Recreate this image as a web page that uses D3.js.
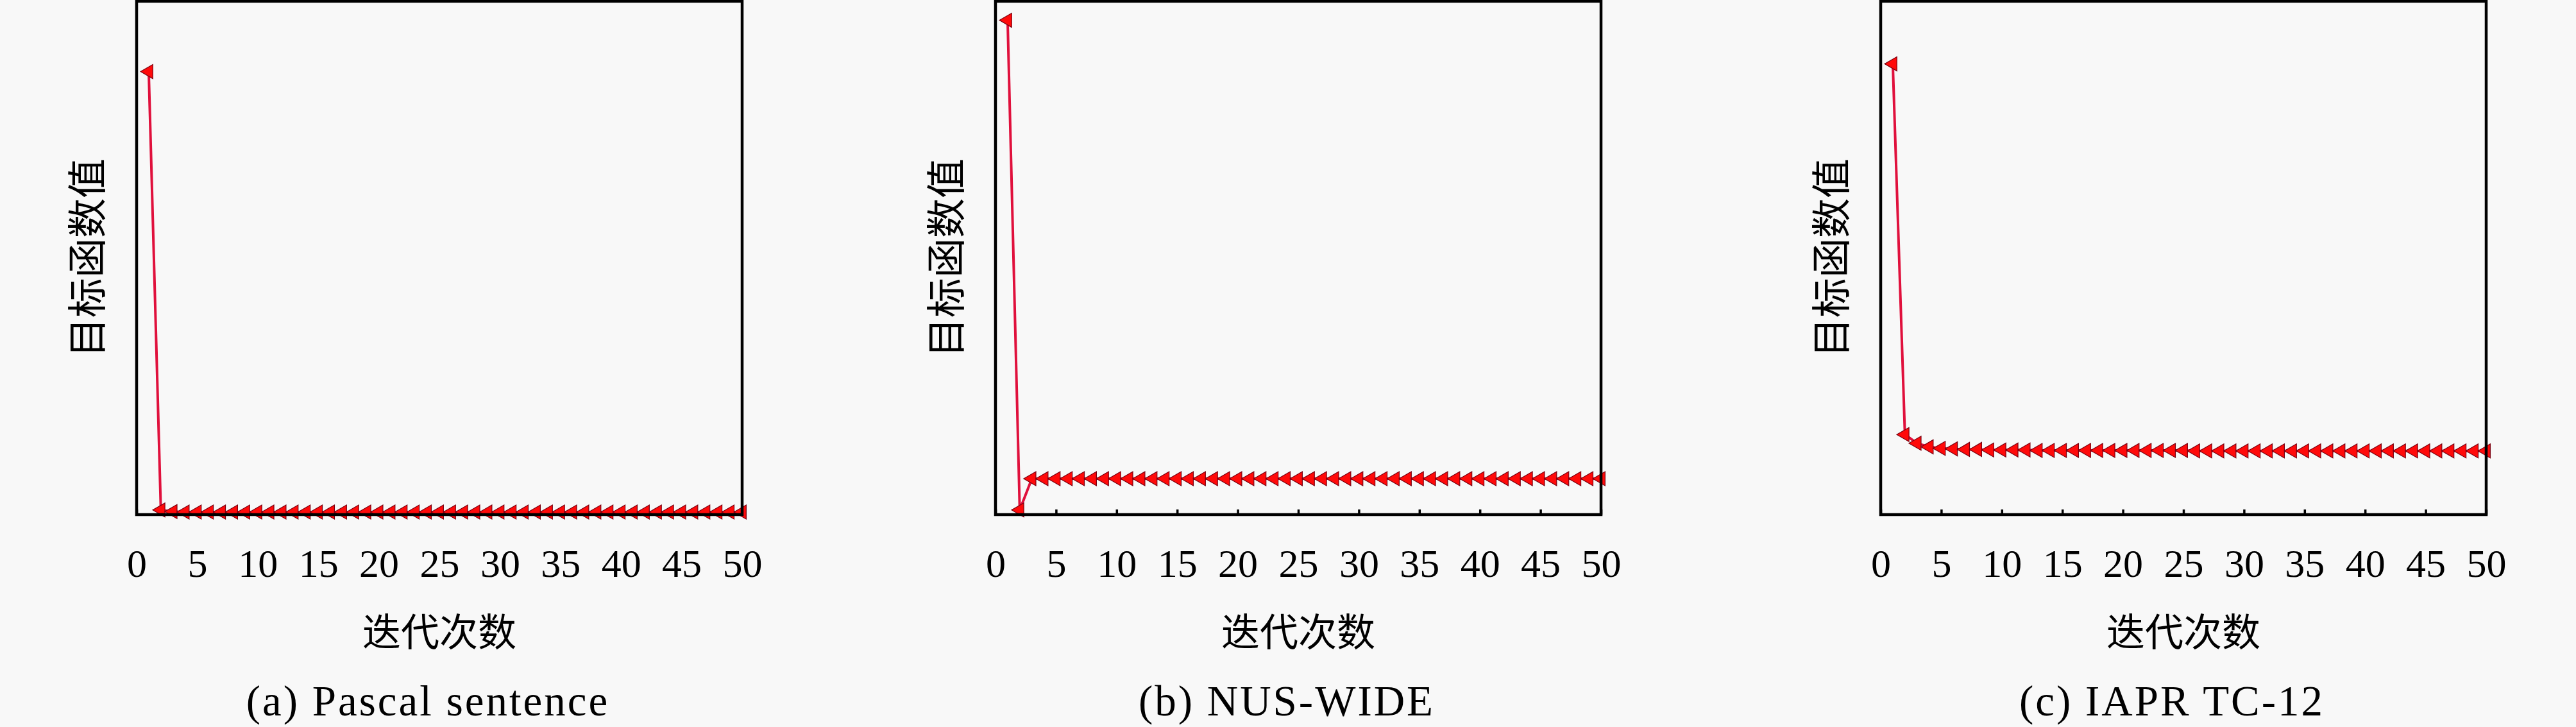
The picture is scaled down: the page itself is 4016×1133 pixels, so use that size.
<!DOCTYPE html>
<html>
<head>
<meta charset="utf-8">
<script src="https://cdn.jsdelivr.net/npm/d3@7"></script>
<style>
  html, body { margin: 0; padding: 0; background: #f8f8f8; }
  svg { display: block; }
</style>
</head>
<body>
<script>
// iteration index and objective values (arbitrary units, no y ticks in the original)
var iterations = [1,2,3,4,5,6,7,8,9,10,11,12,13,14,15,16,17,18,19,20,21,22,23,24,25,
                  26,27,28,29,30,31,32,33,34,35,36,37,38,39,40,41,42,43,44,45,46,47,48,49,50];

var pascalValues = [86.3, 0.9, 0.6, 0.5, 0.5, 0.5, 0.5, 0.5, 0.5, 0.5,
                    0.5, 0.5, 0.5, 0.5, 0.5, 0.5, 0.5, 0.5, 0.5, 0.5,
                    0.5, 0.5, 0.5, 0.5, 0.5, 0.5, 0.5, 0.5, 0.5, 0.5,
                    0.5, 0.5, 0.5, 0.5, 0.5, 0.5, 0.5, 0.5, 0.5, 0.5,
                    0.5, 0.5, 0.5, 0.5, 0.5, 0.5, 0.5, 0.5, 0.5, 0.5];

var nusValues = [96.3, 0.9, 7.0, 7.0, 7.0, 7.0, 7.0, 7.0, 7.0, 7.0,
                 7.0, 7.0, 7.0, 7.0, 7.0, 7.0, 7.0, 7.0, 7.0, 7.0,
                 7.0, 7.0, 7.0, 7.0, 7.0, 7.0, 7.0, 7.0, 7.0, 7.0,
                 7.0, 7.0, 7.0, 7.0, 7.0, 7.0, 7.0, 7.0, 7.0, 7.0,
                 7.0, 7.0, 7.0, 7.0, 7.0, 7.0, 7.0, 7.0, 7.0, 7.0];

var iaprValues = [87.8, 15.6, 13.9, 13.2, 12.9, 12.8, 12.7, 12.7, 12.6, 12.6,
                  12.6, 12.6, 12.5, 12.5, 12.5, 12.5, 12.5, 12.5, 12.5, 12.5,
                  12.5, 12.5, 12.5, 12.5, 12.5, 12.4, 12.4, 12.4, 12.4, 12.4,
                  12.4, 12.4, 12.4, 12.4, 12.4, 12.4, 12.4, 12.4, 12.4, 12.4,
                  12.4, 12.4, 12.4, 12.4, 12.4, 12.4, 12.4, 12.4, 12.4, 12.4];

var xTicks = [0, 5, 10, 15, 20, 25, 30, 35, 40, 45, 50];
var captions = ["(a) Pascal sentence", "(b) NUS-WIDE", "(c) IAPR TC-12"];
var xLabel = "迭代次数";
var yLabel = "目标函数值";

var panels = [
  { values: pascalValues, left: 213 },
  { values: nusValues, left: 1552 },
  { values: iaprValues, left: 2932 }
];

var W = 4016, H = 1133,
    plotW = 944, plotTop = 2, plotBottom = 802;

var svg = d3.select("body").append("svg")
    .attr("width", W)
    .attr("height", H);

svg.append("rect")
    .attr("width", W).attr("height", H)
    .attr("fill", "#f8f8f8");

var serif = "'Liberation Serif', 'DejaVu Serif', serif";
var cjk = "'Noto Sans CJK SC', sans-serif";

var marker = d3.symbol().type(d3.symbolTriangle).size(210);

panels.forEach(function(p, k) {
  var g = svg.append("g")
      .attr("transform", "translate(" + p.left + ",0)");

  var x = d3.scaleLinear().domain([0, 50]).range([0, plotW]);
  var y = d3.scaleLinear().domain([0, 100]).range([plotBottom, plotTop]);

  // bottom axis with small inward ticks
  var axis = d3.axisBottom(x)
      .tickValues(xTicks)
      .tickSize(-8)
      .tickPadding(53)
      .tickFormat(d3.format("d"));

  var ax = g.append("g")
      .attr("transform", "translate(0," + plotBottom + ")")
      .call(axis);
  ax.select(".domain").remove();
  ax.selectAll(".tick line")
      .attr("stroke", "#000")
      .attr("stroke-width", 3.5);
  ax.selectAll(".tick text")
      .attr("fill", "#000")
      .style("font-family", serif)
      .style("font-size", "62px");

  // data line
  var line = d3.line()
      .x(function(d, i) { return x(iterations[i]); })
      .y(function(d) { return y(d); });

  g.append("path")
      .datum(p.values)
      .attr("fill", "none")
      .attr("stroke", "#e0103c")
      .attr("stroke-width", 4)
      .attr("d", line);

  // left-pointing triangle markers
  g.selectAll("path.mark")
      .data(p.values)
      .enter().append("path")
      .attr("class", "mark")
      .attr("d", marker)
      .attr("transform", function(d, i) {
        return "translate(" + x(iterations[i]) + "," + y(d) + ") rotate(-90)";
      })
      .attr("fill", "#ff0a0a")
      .attr("stroke", "#7a0010")
      .attr("stroke-width", 1.2);

  // frame
  g.append("rect")
      .attr("x", 0).attr("y", plotTop)
      .attr("width", plotW).attr("height", plotBottom - plotTop)
      .attr("fill", "none")
      .attr("stroke", "#000")
      .attr("stroke-width", 4.5);

  // axis titles
  g.append("text")
      .attr("x", plotW / 2)
      .attr("y", 980)
      .attr("text-anchor", "middle")
      .attr("dominant-baseline", "central")
      .style("font-family", cjk)
      .style("font-size", "60px")
      .text(xLabel);

  g.append("text")
      .attr("transform", "translate(-81," + ((plotTop + plotBottom) / 2) + ") rotate(-90)")
      .attr("text-anchor", "middle")
      .attr("dominant-baseline", "central")
      .style("font-family", cjk)
      .style("font-size", "62px")
      .text(yLabel);

  // sub-caption
  g.append("text")
      .attr("x", plotW / 2 - 18)
      .attr("y", 1115)
      .attr("text-anchor", "middle")
      .style("font-family", serif)
      .style("font-size", "67px")
      .style("letter-spacing", "3px")
      .text(captions[k]);
});
</script>
</body>
</html>
